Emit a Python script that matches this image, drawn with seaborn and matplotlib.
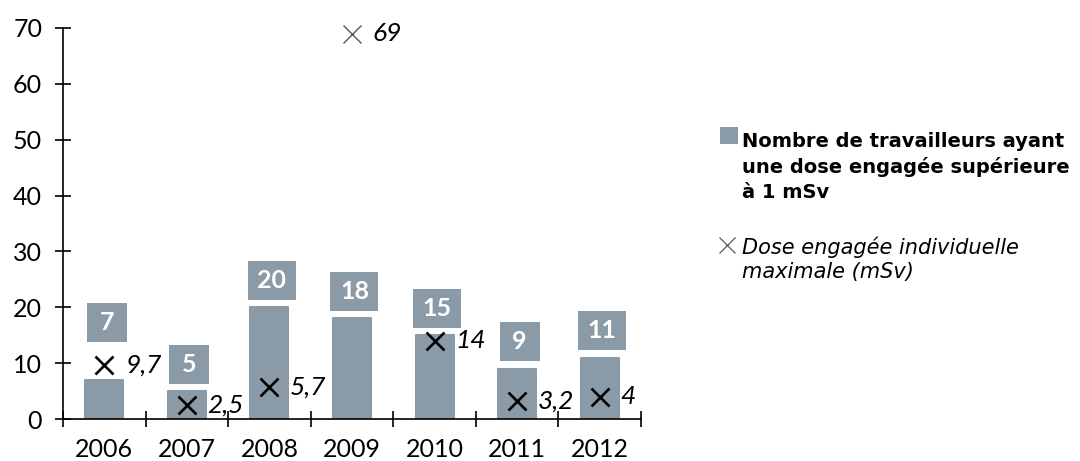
import matplotlib
matplotlib.use("Agg")
import matplotlib.pyplot as plt
from matplotlib.patches import Rectangle
from matplotlib.lines import Line2D
import seaborn as sns
import pandas as pd

years = ["2006", "2007", "2008", "2009", "2010", "2011", "2012"]
workers = [7, 5, 20, 18, 15, 9, 11]
max_dose = [9.7, 2.5, 5.7, 69, 14, 3.2, 4]

legend_bar = "Nombre de travailleurs ayant\nune dose engagée supérieure\nà 1 mSv"
legend_dose = "Dose engagée individuelle\nmaximale (mSv)"

GREY = "#8a9aa6"

sns.set_theme(style="white")
plt.rcParams["font.family"] = ["Lato", "DejaVu Sans"]
plt.rcParams["text.color"] = "black"
plt.rcParams["xtick.color"] = "black"
plt.rcParams["ytick.color"] = "black"
plt.rcParams["xtick.labelcolor"] = "black"
plt.rcParams["ytick.labelcolor"] = "black"

df = pd.DataFrame({"annee": years, "travailleurs": workers, "dose": max_dose})

fig = plt.figure(figsize=(10.8, 4.61), dpi=100)
ax = fig.add_axes([63 / 1080, 42 / 461, 578 / 1080, 391 / 461])

sns.barplot(data=df, x="annee", y="travailleurs", color=GREY, width=0.46,
            saturation=1, ax=ax, linewidth=1.5, edgecolor=GREY)
for p in ax.patches:
    p.set_joinstyle("round")

ax.set_xlim(-0.5, len(years) - 0.5)
ax.set_ylim(0, 70)
ax.set_xlabel("")
ax.set_ylabel("")
ax.set_yticks(range(0, 71, 10))

for side in ("top", "right"):
    ax.spines[side].set_visible(False)
for side in ("left", "bottom"):
    ax.spines[side].set_color("black")
    ax.spines[side].set_linewidth(1.2)

ax.tick_params(axis="y", direction="inout", length=12, width=1.2, color="black",
               labelsize=18, pad=9, left=True)
ax.tick_params(axis="x", which="major", length=0, labelsize=18, pad=14)
ax.set_xticks([i - 0.5 for i in range(len(years) + 1)], minor=True)
ax.tick_params(axis="x", which="minor", direction="inout", length=12, width=1.2,
               color="black", bottom=True)

# value boxes above each bar
px_per_unit = 391 / 70
box_h = 39 / px_per_unit
box_lift = {0: 10.3}
for i, n in enumerate(workers):
    cy = n + box_lift.get(i, 4.8)
    w = (40 if n < 10 else 48) / 82.6
    ax.add_patch(Rectangle((i + 0.03 - w / 2, cy - box_h / 2), w, box_h,
                           facecolor=GREY, edgecolor="none", zorder=3))
    ax.text(i + 0.03, cy, str(n), ha="center", va="center", color="white",
            fontsize=18, fontweight="bold", zorder=4)

# maximum individual dose markers
for i, d in enumerate(max_dose):
    outlier = d > 50
    ax.plot(i, d, marker="x", linestyle="none", markersize=13,
            markeredgewidth=1.0 if outlier else 1.9,
            color="#555555" if outlier else "black", zorder=5, clip_on=False)
    ax.annotate(f"{d:g}".replace(".", ","), (i, d), xytext=(15, 0),
                textcoords="offset points", ha="left", va="center",
                fontsize=19, fontstyle="italic", color="black", zorder=5)

# legend
fig.patches.append(Rectangle((720 / 1080, 1 - 144 / 461), 18 / 1080, 17 / 461,
                             transform=fig.transFigure, facecolor=GREY,
                             edgecolor="none"))
fig.text(742 / 1080, 1 - 198 / 461, legend_bar, ha="left", va="baseline",
         fontsize=14, fontweight="bold", linespacing=1.4,
         family="DejaVu Sans")
fig.lines.append(Line2D([727 / 1080], [1 - 245 / 461], marker="x",
                        markersize=11, markeredgewidth=0.9, color="#555555",
                        transform=fig.transFigure))
fig.text(742 / 1080, 1 - 278 / 461, legend_dose, ha="left", va="baseline",
         fontsize=15, fontstyle="italic", linespacing=1.25,
         family="DejaVu Sans")

fig.savefig("out.png", dpi=100)
